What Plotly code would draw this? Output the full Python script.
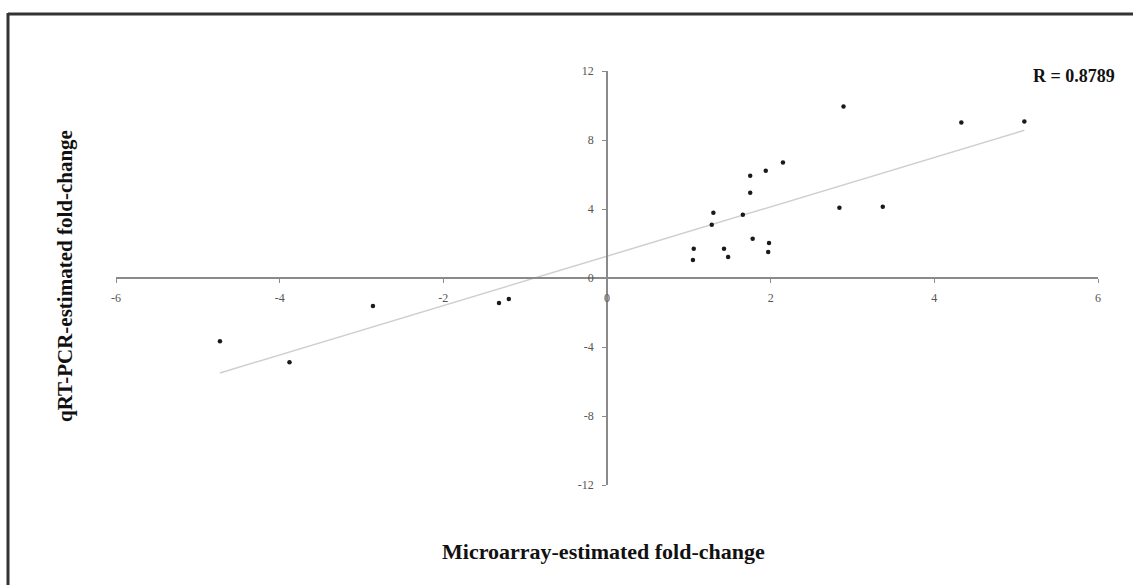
import numpy as np
import plotly.graph_objects as go

# Data
microarray_fc = [-4.73, -3.88, -2.86, -1.32, -1.20, 1.05, 1.06, 1.28, 1.30, 1.43, 1.48, 1.66,
                 1.75, 1.75, 1.78, 1.94, 1.98, 1.97, 2.15, 2.84, 2.89, 3.37, 4.33, 5.10]
qrtpcr_fc = [-3.66, -4.88, -1.63, -1.45, -1.22, 1.05, 1.69, 3.08, 3.78, 1.69, 1.22, 3.66,
             4.94, 5.93, 2.27, 6.22, 2.03, 1.51, 6.69, 4.07, 9.94, 4.13, 9.01, 9.07]
x_ticks = [-6, -4, -2, 0, 2, 4, 6]
y_ticks = [-12, -8, -4, 0, 4, 8, 12]
x_ticktext = ["-6", "-4", "-2", "0", "2", "4", "6"]
y_ticktext = ["-12", "-8", "-4", "0", "4", "8", "12"]
r_label = "R = 0.8789"
x_title = "Microarray-estimated fold-change"
y_title = "qRT-PCR-estimated fold-change"

W, H = 1133, 585
ML, MR, MT, MB = 116, 35, 71, 100
PW, PH = W - ML - MR, H - MT - MB


def px_to_paper_x(p):
    return (p - ML) / PW


def px_to_paper_y(p):
    return (H - MB - p) / PH


slope, intercept = np.polyfit(microarray_fc, qrtpcr_fc, 1)
xl = np.array([min(microarray_fc), max(microarray_fc)])
yl = slope * xl + intercept

fig = go.Figure()
fig.add_trace(go.Scatter(x=xl, y=yl, mode="lines",
                         line=dict(color="#cfcfcf", width=1.5), hoverinfo="skip"))
fig.add_trace(go.Scatter(x=microarray_fc, y=qrtpcr_fc, mode="markers",
                         marker=dict(color="#1a1a1a", size=4.5, symbol="circle")))

serif = "Liberation Serif, Times New Roman, serif"

fig.update_layout(
    width=W, height=H,
    margin=dict(l=ML, r=MR, t=MT, b=MB),
    paper_bgcolor="white", plot_bgcolor="white",
    showlegend=False,
    xaxis=dict(range=[-6, 6], tickvals=x_ticks, ticktext=x_ticktext, anchor="free", position=0.5,
               showgrid=False, zeroline=False, showline=True, linecolor="#8a8a8a",
               linewidth=2, ticks="outside", ticklen=4, tickcolor="#8a8a8a",
               tickfont=dict(family=serif, size=12, color="#555555"),
               ticklabelstandoff=5),
    yaxis=dict(range=[-12, 12], tickvals=y_ticks, ticktext=y_ticktext, anchor="free", position=0.5,
               showgrid=False, zeroline=False, showline=True, linecolor="#8a8a8a",
               linewidth=1.5, ticks="outside", ticklen=4, tickcolor="#8a8a8a",
               tickfont=dict(family=serif, size=12, color="#555555"),
               ticklabelstandoff=6),
    annotations=[
        dict(text=f"<b>{x_title}</b>", xref="paper", yref="paper",
             x=px_to_paper_x(603), y=px_to_paper_y(551), xanchor="center", yanchor="middle",
             showarrow=False, font=dict(family=serif, size=22, color="#111111")),
        dict(text=f"<b>{y_title}</b>", xref="paper", yref="paper",
             x=px_to_paper_x(65), y=px_to_paper_y(276), xanchor="center", yanchor="middle",
             showarrow=False, textangle=-90,
             font=dict(family=serif, size=21, color="#111111")),
        dict(text=f"<b>{r_label}</b>", xref="paper", yref="paper",
             x=px_to_paper_x(1074), y=px_to_paper_y(76), xanchor="center", yanchor="middle",
             showarrow=False, font=dict(family=serif, size=18, color="#111111")),
    ],
    shapes=[
        dict(type="line", xref="paper", yref="paper",
             x0=px_to_paper_x(8), x1=px_to_paper_x(W + 5),
             y0=px_to_paper_y(14), y1=px_to_paper_y(14),
             line=dict(color="#333333", width=3)),
        dict(type="line", xref="paper", yref="paper",
             x0=px_to_paper_x(8), x1=px_to_paper_x(8),
             y0=px_to_paper_y(13), y1=px_to_paper_y(H + 5),
             line=dict(color="#333333", width=3)),
    ],
)

fig.write_html("out.html")
